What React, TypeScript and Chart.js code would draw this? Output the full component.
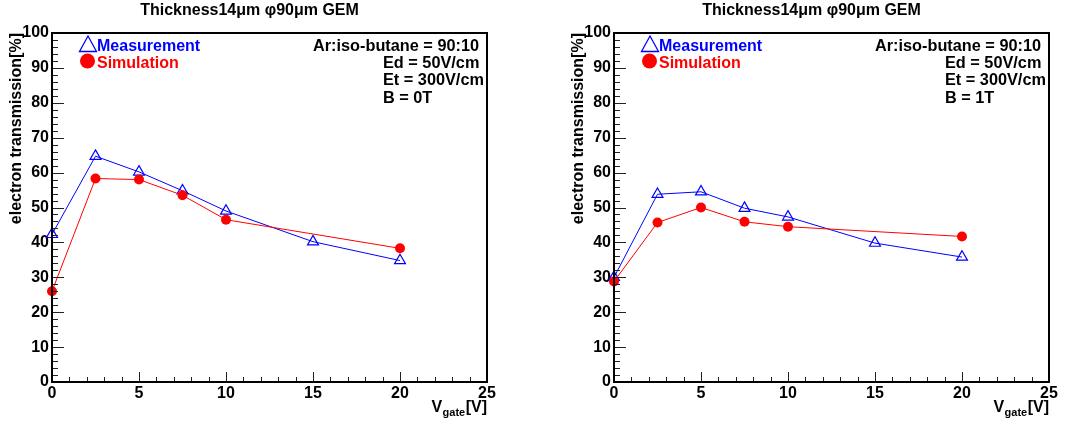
import React, { useEffect, useRef } from "react";
import { Chart, registerables } from "chart.js";

Chart.register(...registerables);

// ---------- data ----------
const xTickValues = [0, 5, 10, 15, 20, 25];
const yTickValues = [0, 10, 20, 30, 40, 50, 60, 70, 80, 90, 100];
const measurementX = [0, 2.5, 5, 7.5, 10, 15, 20];
const simulationX = [0, 2.5, 5, 7.5, 10, 20];
const measurementB0 = [42.3, 64.7, 60.2, 54.8, 49.0, 40.2, 34.8];
const simulationB0 = [26.0, 58.3, 58.0, 53.5, 46.5, 38.3];
const measurementB1 = [30.0, 53.8, 54.5, 49.8, 47.3, 39.8, 35.8];
const simulationB1 = [28.8, 45.7, 50.0, 45.9, 44.5, 41.7];
const titleText = "Thickness14\u03bcm \u03c690\u03bcm GEM";
const legendLabels = ["Measurement", "Simulation"];
const gasLine = "Ar:iso-butane = 90:10";
const fieldLines = ["Ed = 50V/cm", "Et = 300V/cm"];
const magnetLabels = ["B = 0T", "B = 1T"];
const yAxisTitle = "electron transmission[%]";
const xAxisTitleMain = "V";
const xAxisTitleSub = "gate";
const xAxisTitleUnit = "[V]";

const FONT = "'Liberation Sans', Arial, Helvetica, sans-serif";
const BLUE = "rgb(0,0,255)";
const RED = "rgb(255,0,0)";

type PanelProps = {
  canvasWidth: number;
  plotLeft: number;
  plotRight: number;
  meas: number[];
  sim: number[];
  bLabel: string;
};

function Panel({ canvasWidth, plotLeft, plotRight, meas, sim, bLabel }: PanelProps) {
  const ref = useRef<HTMLCanvasElement | null>(null);

  useEffect(() => {
    if (!ref.current) return;
    const yAxisWidth = 40;
    const decorPlugin = {
      id: "rootDecor",
      afterDraw(chart: any) {
        const ctx = chart.ctx as CanvasRenderingContext2D;
        const area = chart.chartArea;
        const xs = chart.scales.x;
        const ys = chart.scales.y;
        const L = area.left;
        ctx.save();
        // ticks inside
        ctx.strokeStyle = "#222";
        ctx.lineWidth = 1;
        ctx.beginPath();
        for (let v = 0; v <= 100; v += 2) {
          const py = Math.round(ys.getPixelForValue(v)) + 0.5;
          const len = v % 10 === 0 ? 12 : 6;
          ctx.moveTo(L, py);
          ctx.lineTo(L + len, py);
        }
        for (let v = 0; v <= 25; v += 1) {
          const px = Math.round(xs.getPixelForValue(v)) + 0.5;
          const len = v % 5 === 0 ? 10 : 5;
          ctx.moveTo(px, area.bottom);
          ctx.lineTo(px, area.bottom - len);
        }
        ctx.stroke();
        // frame
        ctx.strokeStyle = "#000";
        ctx.lineWidth = 2;
        ctx.strokeRect(area.left, area.top, area.right - area.left, area.bottom - area.top);

        // title
        ctx.fillStyle = "#000";
        ctx.font = `bold 16px ${FONT}`;
        ctx.textAlign = "center";
        ctx.textBaseline = "alphabetic";
        ctx.fillText(titleText, (area.left + area.right) / 2 - 20, 15);

        // legend
        const tx = L + 36;
        const ty = 44;
        ctx.strokeStyle = BLUE;
        ctx.lineWidth = 1.3;
        ctx.beginPath();
        ctx.moveTo(tx, ty - 8);
        ctx.lineTo(tx + 8.5, ty + 7.5);
        ctx.lineTo(tx - 8.5, ty + 7.5);
        ctx.closePath();
        ctx.stroke();
        ctx.fillStyle = RED;
        ctx.beginPath();
        ctx.arc(L + 35.5, 61, 7.5, 0, Math.PI * 2);
        ctx.fill();
        ctx.font = `bold 16px ${FONT}`;
        ctx.textAlign = "left";
        ctx.fillStyle = BLUE;
        ctx.fillText(legendLabels[0], L + 45, 50.5);
        ctx.fillStyle = RED;
        ctx.fillText(legendLabels[1], L + 45, 67.5);

        // annotations
        ctx.fillStyle = "#000";
        ctx.font = `bold 16.3px ${FONT}`;
        ctx.fillText(gasLine, L + 261, 50.5);
        ctx.fillText(fieldLines[0], L + 331, 67.8);
        ctx.fillText(fieldLines[1], L + 331, 85.2);
        ctx.fillText(bLabel, L + 331, 102.6);

        // y axis title
        ctx.save();
        ctx.translate(L - 35, area.top);
        ctx.rotate(-Math.PI / 2);
        ctx.textAlign = "right";
        ctx.textBaseline = "middle";
        ctx.font = `bold 16px ${FONT}`;
        ctx.fillText(yAxisTitle, 0, 0);
        ctx.restore();

        // x axis title
        ctx.textAlign = "left";
        ctx.textBaseline = "alphabetic";
        ctx.font = `bold 16px ${FONT}`;
        const wUnit = ctx.measureText(xAxisTitleUnit).width;
        const wMain = ctx.measureText(xAxisTitleMain).width;
        ctx.font = `bold 11px ${FONT}`;
        const wSub = ctx.measureText(xAxisTitleSub).width;
        const xr = area.right;
        ctx.font = `bold 16px ${FONT}`;
        ctx.fillText(xAxisTitleUnit, xr - wUnit, 412);
        ctx.fillText(xAxisTitleMain, xr - wUnit - wSub - 1 - wMain, 412);
        ctx.font = `bold 11px ${FONT}`;
        ctx.fillText(xAxisTitleSub, xr - wUnit - wSub - 0.5, 415.5);
        ctx.restore();
      },
    };

    const chart = new Chart(ref.current, {
      type: "line",
      data: {
        datasets: [
          {
            label: legendLabels[1],
            data: simulationX.map((x, i) => ({ x, y: sim[i] })),
            borderColor: RED,
            backgroundColor: RED,
            borderWidth: 1,
            pointStyle: "circle",
            pointRadius: 5,
            pointBackgroundColor: RED,
            pointBorderColor: RED,
            pointBorderWidth: 0,
            showLine: true,
            clip: false as any,
          },
          {
            label: legendLabels[0],
            data: measurementX.map((x, i) => ({ x, y: meas[i] })),
            borderColor: BLUE,
            backgroundColor: "rgba(0,0,0,0)",
            borderWidth: 1,
            pointStyle: "triangle",
            pointRadius: 6.3,
            pointBackgroundColor: "rgba(0,0,0,0)",
            pointBorderColor: BLUE,
            pointBorderWidth: 1.2,
            showLine: true,
            clip: false as any,
          },
        ],
      },
      options: {
        animation: false,
        responsive: false,
        events: [],
        layout: {
          padding: {
            left: plotLeft - yAxisWidth,
            right: canvasWidth - plotRight,
            top: 33,
            bottom: 0,
          },
        },
        plugins: {
          legend: { display: false },
          title: { display: false },
          tooltip: { enabled: false },
        },
        scales: {
          x: {
            type: "linear",
            min: 0,
            max: 25,
            afterBuildTicks: (scale: any) => {
              scale.ticks = xTickValues.map((v) => ({ value: v }));
            },
            afterFit: (scale: any) => {
              scale.height = 41;
            },
            grid: { display: false, drawTicks: false },
            border: { display: false },
            ticks: {
              padding: 2,
              color: "#000",
              font: { family: FONT, size: 16, weight: "bold" },
              maxRotation: 0,
            },
          },
          y: {
            type: "linear",
            min: 0,
            max: 100,
            afterBuildTicks: (scale: any) => {
              scale.ticks = yTickValues.map((v) => ({ value: v }));
            },
            afterFit: (scale: any) => {
              scale.width = yAxisWidth;
            },
            grid: { display: false, drawTicks: false },
            border: { display: false },
            ticks: {
              padding: 3,
              color: "#000",
              font: { family: FONT, size: 16, weight: "bold" },
            },
          },
        },
      },
      plugins: [decorPlugin],
    } as any);
    return () => chart.destroy();
  }, [canvasWidth, plotLeft, plotRight, meas, sim, bLabel]);

  return (
    <canvas
      ref={ref}
      width={canvasWidth}
      height={423}
      style={{ display: "block", width: canvasWidth, height: 423 }}
    />
  );
}

export default function App() {
  return (
    <div
      style={{
        position: "absolute",
        left: 0,
        top: 0,
        width: 1065,
        height: 423,
        background: "#fff",
        display: "flex",
      }}
    >
      <Panel canvasWidth={533} plotLeft={52} plotRight={487} meas={measurementB0} sim={simulationB0} bLabel={magnetLabels[0]} />
      <Panel canvasWidth={532} plotLeft={81} plotRight={516} meas={measurementB1} sim={simulationB1} bLabel={magnetLabels[1]} />
    </div>
  );
}
